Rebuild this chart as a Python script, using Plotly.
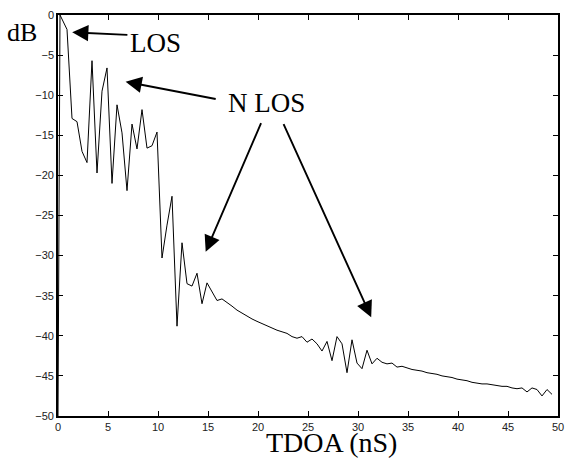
import plotly.graph_objects as go

# TDOA sample times (ns) and received power (dB)
tdoa_ns = [0.0, 0.2,
           0.9, 1.4, 1.9, 2.4, 2.9, 3.4, 3.9, 4.4, 4.9, 5.4,
           5.9, 6.4, 6.9, 7.4, 7.9, 8.4, 8.9, 9.4, 9.9, 10.4,
           10.9, 11.4, 11.9, 12.4, 12.9, 13.4, 13.9, 14.4, 14.9, 15.4,
           15.9, 16.4, 16.9, 17.4, 17.9, 18.4, 18.9, 19.4, 19.9, 20.4,
           20.9, 21.4, 21.9, 22.4, 22.9, 23.4, 23.9, 24.4, 24.9, 25.4,
           25.9, 26.4, 26.9, 27.4, 27.9, 28.4, 28.9, 29.4, 29.9, 30.4,
           30.9, 31.4, 31.9, 32.4, 32.9, 33.4, 33.9, 34.4, 34.9, 35.4,
           35.9, 36.4, 36.9, 37.4, 37.9, 38.4, 38.9, 39.4, 39.9, 40.4,
           40.9, 41.4, 41.9, 42.4, 42.9, 43.4, 43.9, 44.4, 44.9, 45.4,
           45.9, 46.4, 46.9, 47.4, 47.9, 48.4, 48.9, 49.4]
power_db = [-50.0, 0.0,
            -1.8, -12.9, -13.3, -17.0, -18.4, -5.7, -19.7, -9.5, -6.6, -21.0,
            -11.2, -14.7, -21.9, -13.6, -16.7, -11.8, -16.6, -16.3, -14.6, -30.3,
            -26.2, -22.6, -38.8, -28.4, -33.5, -33.8, -32.2, -36.0, -33.4, -34.5,
            -35.6, -35.4, -35.8, -36.3, -36.8, -37.2, -37.5, -37.9, -38.2, -38.5,
            -38.7, -39.0, -39.3, -39.5, -39.7, -40.1, -40.3, -40.1, -40.8, -40.4,
            -41.0, -41.9, -40.7, -43.1, -40.1, -41.0, -44.6, -40.5, -43.4, -44.1,
            -41.8, -43.5, -42.8, -43.3, -43.5, -43.4, -43.9, -43.8, -44.0, -44.2,
            -44.3, -44.4, -44.6, -44.7, -44.8, -45.0, -45.1, -45.2, -45.4, -45.5,
            -45.6, -45.8, -45.9, -46.0, -46.0, -46.1, -46.2, -46.3, -46.3, -46.5,
            -46.6, -46.5, -47.0, -46.5, -46.7, -47.5, -46.7, -47.3]

x_ticks = [0, 5, 10, 15, 20, 25, 30, 35, 40, 45, 50]
y_ticks = [0, -5, -10, -15, -20, -25, -30, -35, -40, -45, -50]

# arrows: (tip_x, tip_y, tail_x, tail_y) in data units
arrows = [
    (1.42, -2.16, 7.09, -2.49),
    (6.76, -8.32, 15.92, -10.51),
    (14.77, -29.51, 20.37, -13.30),
    (31.32, -37.69, 22.49, -13.43),
]

serif = "Liberation Serif, Times New Roman, serif"
sans = "Liberation Sans, Arial, sans-serif"

fig = go.Figure()
fig.add_trace(go.Scatter(x=tdoa_ns, y=power_db, mode="lines",
                         line=dict(color="black", width=1), showlegend=False,
                         hoverinfo="skip"))

annotations = []
for tx, ty, sx, sy in arrows:
    annotations.append(dict(x=tx, y=ty, xref="x", yref="y",
                            ax=sx, ay=sy, axref="x", ayref="y",
                            text="", showarrow=True, arrowhead=2,
                            arrowsize=1.7, arrowwidth=1.9, arrowcolor="black",
                            standoff=0, startstandoff=0))

labels = [
    ("dB", -0.1035, 0.9576, "left", 26),
    ("LOS", 0.1943, 0.929, "center", 27),
    ("N LOS", 0.4179, 0.7805, "center", 27),
    ("TDOA (nS)", 0.5475, -0.066, "center", 28),
]
for txt, px, py, anc, sz in labels:
    annotations.append(dict(x=px, y=py, xref="paper", yref="paper",
                            text=txt, showarrow=False, xanchor=anc,
                            yanchor="middle", borderpad=0,
                            font=dict(family=serif, size=sz, color="black")))

fig.update_layout(
    width=567, height=458,
    margin=dict(l=58, r=3, t=15, b=42),
    paper_bgcolor="white", plot_bgcolor="white",
    annotations=annotations,
    font=dict(family=sans, size=11, color="black"),
)
fig.update_xaxes(range=[0, 50], tickvals=x_ticks, ticks="inside", ticklen=5,
                 tickwidth=1, tickcolor="black", showline=True, linecolor="black",
                 linewidth=1.6, mirror="ticks", showgrid=False, zeroline=False,
                 ticklabeloverflow="allow",
                 tickfont=dict(family=sans, size=11, color="#222"))
fig.update_yaxes(range=[-50, 0], tickvals=y_ticks, ticks="inside", ticklen=5,
                 tickwidth=1, tickcolor="black", showline=True, linecolor="black",
                 linewidth=1.6, mirror="ticks", showgrid=False, zeroline=False,
                 ticklabeloverflow="allow",
                 tickfont=dict(family=sans, size=11, color="#222"))

fig.write_html("out.html",
               config={"displayModeBar": False},
               post_script="document.body.style.margin='0';"
                           "document.body.style.padding='0';"
                           "document.body.style.overflow='hidden';")
